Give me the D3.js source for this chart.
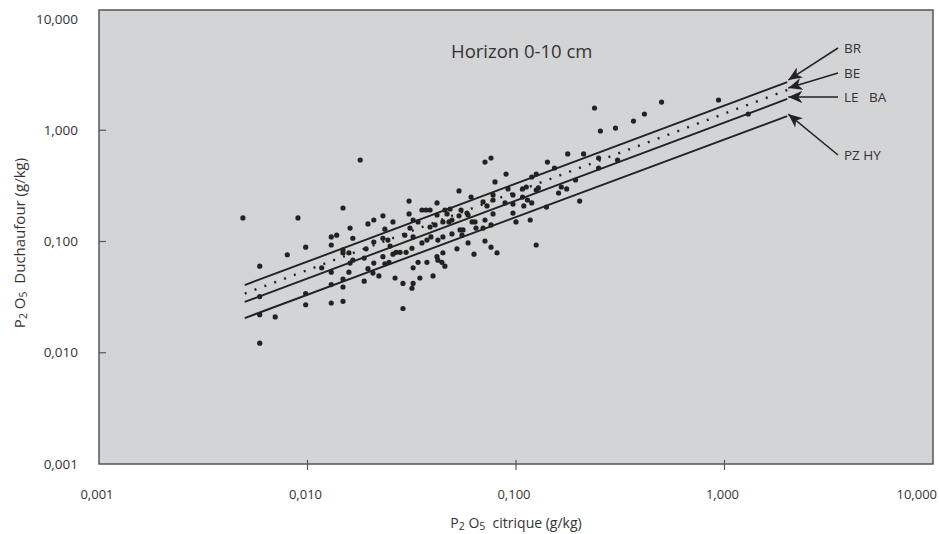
<!DOCTYPE html>
<html>
<head>
<meta charset="utf-8">
<script src="https://cdn.jsdelivr.net/npm/d3@7"></script>
<style>
  body { margin: 0; background: #fff; }
  text { font-family: "Open Sans", sans-serif; fill: #333; }
</style>
</head>
<body>
<svg id="chart" width="939" height="534"></svg>
<script>
// axis ticks
const tickValues = [0.001, 0.01, 0.1, 1, 10];
const tickLabels = ["0,001", "0,010", "0,100", "1,000", "10,000"];

// scatter points (P2O5 citrique, P2O5 Duchaufour), g/kg
const pointsX = [
  0.0049, 0.0090, 0.0059, 0.0059, 0.0059, 0.0059, 0.0070, 0.0080, 0.0098, 0.0098,
  0.0098, 0.0117, 0.0130, 0.0138, 0.0130, 0.0130, 0.0130, 0.0130, 0.0148, 0.0179,
  0.0148, 0.0148, 0.0158, 0.0148, 0.0148, 0.0148, 0.0160, 0.0165, 0.0160, 0.0165,
  0.0158, 0.0191, 0.0187, 0.0187, 0.0195, 0.0195, 0.0208, 0.0208, 0.0208, 0.0206,
  0.0220, 0.0230, 0.0230, 0.0230, 0.0235, 0.0235, 0.0243, 0.0246, 0.0249, 0.0257,
  0.0257, 0.0263, 0.0266, 0.0278, 0.0287, 0.0287, 0.0293, 0.0297, 0.0307, 0.0307,
  0.0310, 0.0317, 0.0317, 0.0321, 0.0321, 0.0321, 0.0321, 0.0339, 0.0339, 0.0346,
  0.0354, 0.0370, 0.0387, 0.0354, 0.0374, 0.0374, 0.0387, 0.0391, 0.0400, 0.0409,
  0.0418, 0.0418, 0.0418, 0.0422, 0.0422, 0.0441, 0.0446, 0.0446, 0.0446, 0.0456,
  0.0456, 0.0467, 0.0477, 0.0483, 0.0493, 0.0493, 0.0521, 0.0533, 0.0533, 0.0539,
  0.0545, 0.0551, 0.0557, 0.0582, 0.0589, 0.0589, 0.0609, 0.0616, 0.0629, 0.0636,
  0.0643, 0.0695, 0.0695, 0.0710, 0.0759, 0.0710, 0.0710, 0.0726, 0.0759, 0.0759,
  0.0776, 0.0776, 0.0776, 0.0793, 0.0811, 0.0886, 0.0896, 0.0916, 0.0967, 0.0967,
  0.0967, 0.100, 0.109, 0.1075, 0.112, 0.1075, 0.1135, 0.117, 0.119, 0.119,
  0.125, 0.125, 0.128, 0.125, 0.140, 0.1415, 0.153, 0.160, 0.165, 0.175,
  0.177, 0.193, 0.202, 0.211, 0.249, 0.249, 0.307, 0.238, 0.254, 0.300,
  0.366, 0.413, 0.499, 0.936, 1.30
];
const pointsY = [
  0.163, 0.163, 0.060, 0.032, 0.022, 0.0122, 0.021, 0.076, 0.089, 0.034,
  0.027, 0.058, 0.110, 0.114, 0.093, 0.053, 0.041, 0.028, 0.200, 0.540,
  0.084, 0.079, 0.079, 0.046, 0.039, 0.029, 0.132, 0.107, 0.064, 0.068,
  0.053, 0.086, 0.071, 0.044, 0.144, 0.057, 0.156, 0.099, 0.064, 0.052,
  0.049, 0.170, 0.107, 0.073, 0.129, 0.063, 0.103, 0.065, 0.091, 0.150,
  0.077, 0.047, 0.080, 0.080, 0.042, 0.025, 0.114, 0.080, 0.231, 0.177,
  0.132, 0.087, 0.038, 0.156, 0.110, 0.058, 0.042, 0.150, 0.065, 0.047,
  0.192, 0.192, 0.192, 0.097, 0.103, 0.065, 0.135, 0.110, 0.049, 0.141,
  0.222, 0.173, 0.073, 0.103, 0.068, 0.065, 0.150, 0.110, 0.079, 0.192,
  0.060, 0.177, 0.150, 0.196, 0.156, 0.117, 0.086, 0.285, 0.170, 0.127,
  0.192, 0.114, 0.127, 0.180, 0.173, 0.097, 0.251, 0.150, 0.077, 0.150,
  0.132, 0.227, 0.132, 0.518, 0.563, 0.156, 0.101, 0.209, 0.141, 0.089,
  0.262, 0.236, 0.177, 0.343, 0.079, 0.222, 0.404, 0.297, 0.262, 0.217,
  0.180, 0.150, 0.209, 0.251, 0.309, 0.297, 0.236, 0.156, 0.380, 0.222,
  0.404, 0.290, 0.303, 0.093, 0.204, 0.518, 0.458, 0.273, 0.309, 0.297,
  0.612, 0.357, 0.231, 0.612, 0.563, 0.458, 0.540, 1.585, 0.985, 1.047,
  1.21, 1.40, 1.79, 1.87, 1.40
];

// regression lines per soil group
const lineNames = ["BR", "BE", "LE   BA", "PZ HY"];
const lineStartX = [0.005, 0.005, 0.005, 0.005];
const lineEndX = [2.0, 2.0, 2.0, 2.0];
const lineStartY = [0.0406, 0.034, 0.0286, 0.0205];
const lineEndY = [2.71, 2.30, 1.91, 1.34];
const lineDotted = [false, true, false, false];

const svg = d3.select('#chart');
const W = 939, H = 534;
const margin = { top: 19, right: 6, bottom: 70, left: 99 };
const frameTop = 10;

const x = d3.scaleLog().domain([0.001, 10]).range([margin.left, W - margin.right]);
const y = d3.scaleLog().domain([0.001, 10]).range([H - margin.bottom, margin.top]);

// plot background
svg.append('rect')
  .attr('x', x(0.001)).attr('y', frameTop)
  .attr('width', x(10) - x(0.001)).attr('height', y(0.001) - frameTop)
  .attr('fill', '#d3d4d6')
  .attr('stroke', '#555').attr('stroke-width', 1.5);

// y ticks (inside) + labels
svg.append('g').selectAll('line').data(tickValues.slice(1, 4)).join('line')
  .attr('x1', x(0.001)).attr('x2', x(0.001) + 7)
  .attr('y1', d => y(d)).attr('y2', d => y(d))
  .attr('stroke', '#555').attr('stroke-width', 1.2);
svg.append('g').selectAll('text').data(tickValues).join('text')
  .attr('x', 78).attr('y', d => y(d))
  .attr('dy', '0.35em').attr('text-anchor', 'end')
  .style('font-size', '13.5px')
  .text((d, i) => tickLabels[i]);

// x ticks + labels (last label kept inside the page)
svg.append('g').selectAll('line').data(tickValues.slice(1, 4)).join('line')
  .attr('x1', d => x(d)).attr('x2', d => x(d))
  .attr('y1', y(0.001) - 4).attr('y2', y(0.001) + 6)
  .attr('stroke', '#555').attr('stroke-width', 1.2);
svg.append('g').selectAll('text').data(tickValues).join('text')
  .attr('x', (d, i) => i === tickValues.length - 1 ? W - 2 : x(d) - 2)
  .attr('y', 499)
  .attr('text-anchor', (d, i) => i === tickValues.length - 1 ? 'end' : 'middle')
  .style('font-size', '13px')
  .text((d, i) => tickLabels[i]);

// title
svg.append('text').attr('x', 451).attr('y', 58)
  .style('font-size', '18.5px').text('Horizon 0-10 cm');

// axis titles with P2O5 subscripts
function p2o5(sel, rest) {
  sel.append('tspan').text('P');
  sel.append('tspan').attr('dy', 2).style('font-size', '10.5px').text('2');
  sel.append('tspan').attr('dy', -2).text(' O');
  sel.append('tspan').attr('dy', 2).style('font-size', '10.5px').text('5');
  sel.append('tspan').attr('dy', -2).text(rest);
}
const xt = svg.append('text').attr('x', x(0.1)).attr('y', 528)
  .attr('text-anchor', 'middle').style('font-size', '14px');
p2o5(xt, '\u00a0 citrique (g/kg)');
const yt = svg.append('text').attr('transform', 'translate(25,243) rotate(-90)')
  .attr('text-anchor', 'middle').style('font-size', '15px');
p2o5(yt, '\u00a0 Duchaufour (g/kg)');

// arrow marker
svg.append('defs').append('marker')
  .attr('id', 'arrow').attr('viewBox', '0 -6 14 12')
  .attr('refX', 14).attr('refY', 0)
  .attr('markerWidth', 14).attr('markerHeight', 12)
  .attr('markerUnits', 'userSpaceOnUse').attr('orient', 'auto')
  .append('path').attr('d', 'M0,-6L14,0L0,6L4,0Z').attr('fill', '#222');

// regression lines
const lines = lineNames.map((n, i) => ({
  name: n, x0: lineStartX[i], y0: lineStartY[i], x1: lineEndX[i], y1: lineEndY[i], dotted: lineDotted[i]
}));
svg.append('g').selectAll('line').data(lines).join('line')
  .attr('x1', d => x(d.x0)).attr('y1', d => y(d.y0))
  .attr('x2', d => x(d.x1)).attr('y2', d => y(d.y1))
  .attr('stroke', '#222')
  .attr('stroke-width', d => d.dotted ? 2.4 : 1.9)
  .attr('stroke-dasharray', d => d.dotted ? '2,8.5' : null);

// scatter
svg.append('g').selectAll('circle').data(pointsX).join('circle')
  .attr('cx', d => x(d)).attr('cy', (d, i) => y(pointsY[i]))
  .attr('r', 2.6).attr('fill', '#222');

// labels and arrows on the right
const labelY = [48, 73, 97, 155];
svg.append('g').selectAll('line').data(lines).join('line')
  .attr('x1', 838).attr('y1', (d, i) => labelY[i])
  .attr('x2', d => x(d.x1) + 1).attr('y2', d => y(d.y1) - 2)
  .attr('stroke', '#222').attr('stroke-width', 1.5)
  .attr('marker-end', 'url(#arrow)');
svg.append('g').selectAll('text').data(lines).join('text')
  .attr('x', 844).attr('y', (d, i) => labelY[i]).attr('dy', '0.35em')
  .style('font-size', '13.5px').style('white-space', 'pre')
  .text(d => d.name);
</script>
</body>
</html>
